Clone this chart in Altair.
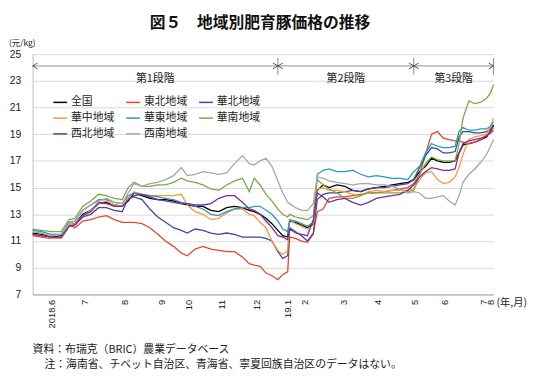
import altair as alt
import pandas as pd

# ---------------- data ----------------
t = [0, 9, 19, 29, 37, 43, 51, 59, 67, 75,
     83, 91, 97, 103, 111, 119, 127, 135, 143, 151,
     157, 165, 173, 181, 189, 197, 205, 213, 220, 225,
     231, 237, 243, 249, 254, 259, 261, 267, 273, 279,
     285, 289, 295, 301, 309, 317, 325, 333, 341, 349,
     357, 365, 373, 381, 387, 393, 399, 405, 411, 417,
     423, 429, 433, 437, 443, 449, 455, 461, 465, 468]

zenkoku = [11.6, 11.5, 11.3, 11.4, 12.2, 12.3, 13.0, 13.3, 13.8, 13.9,
           13.7, 13.6, 14.0, 14.6, 14.4, 14.2, 14.1, 14.1, 14.0, 13.8,
           13.7, 13.6, 13.6, 13.3, 13.2, 13.5, 13.6, 13.5, 13.3, 13.2,
           13.0, 12.7, 12.3, 11.8, 11.4, 11.3, 12.5, 12.4, 12.2, 12.0,
           12.3, 14.8, 15.2, 15.0, 15.2, 15.1, 14.8, 14.7, 14.9, 15.0,
           15.1, 15.2, 15.3, 15.4, 15.6, 16.2, 16.6, 17.2, 17.0, 16.9,
           16.9, 17.0, 17.6, 18.2, 18.3, 18.4, 18.6, 18.8, 19.3, 19.7]
tohoku = [11.4, 11.3, 11.2, 11.3, 12.2, 12.0, 12.5, 12.6, 12.8, 12.9,
          12.6, 12.4, 12.4, 12.4, 12.3, 12.0, 11.5, 11.0, 10.6, 10.1,
          9.9, 10.4, 10.6, 10.4, 10.3, 10.2, 10.2, 9.8, 9.3, 9.2,
          9.1, 8.6, 8.4, 8.1, 8.5, 8.7, 11.3, 11.2, 11.0, 10.9,
          11.5, 13.2, 13.4, 14.2, 14.3, 14.3, 14.4, 14.5, 14.6, 14.6,
          14.7, 14.8, 14.9, 15.0, 15.3, 16.0, 17.5, 19.0, 19.2, 18.7,
          18.6, 18.5, 18.5, 18.4, 18.3, 18.4, 18.6, 18.9, 19.2, 19.5]
kahoku = [11.5, 11.4, 11.2, 11.2, 12.1, 12.2, 12.8, 13.0, 13.5, 13.5,
          13.3, 13.2, 14.2, 14.3, 14.1, 13.4, 12.8, 12.4, 12.0, 11.8,
          11.6, 11.9, 11.8, 11.6, 11.5, 11.6, 11.5, 11.3, 11.3, 11.3,
          11.3, 11.2, 11.0, 10.2, 9.7, 9.9, 12.0, 11.7, 11.4, 11.0,
          11.6, 14.1, 14.5, 14.6, 14.6, 14.7, 14.8, 14.7, 14.9, 15.0,
          15.0, 15.1, 15.2, 15.3, 15.6, 16.5, 17.4, 18.0, 17.9, 17.6,
          17.6, 17.7, 18.8, 19.2, 19.2, 19.1, 19.1, 19.2, 19.4, 19.6]
kachu = [11.5, 11.4, 11.2, 11.2, 12.2, 12.3, 12.9, 13.3, 13.8, 14.0,
         13.7, 13.6, 14.2, 14.7, 14.5, 14.4, 14.4, 14.4, 14.4, 14.5,
         13.7, 13.2, 13.0, 12.6, 12.7, 13.1, 13.4, 13.4, 13.0, 12.9,
         12.4, 12.0, 11.0, 10.3, 10.0, 10.3, 12.6, 12.3, 12.1, 11.9,
         12.2, 14.9, 15.0, 14.8, 14.8, 14.7, 14.5, 14.4, 14.7, 14.8,
         14.7, 14.8, 14.8, 14.8, 14.9, 15.6, 16.1, 16.2, 15.6, 15.3,
         15.4, 15.8, 16.5, 17.5, 18.6, 18.8, 18.9, 19.0, 19.6, 20.2]
katou = [11.8, 11.7, 11.5, 11.5, 12.4, 12.5, 13.3, 13.7, 14.1, 14.1,
         13.9, 13.8, 14.4, 14.6, 14.5, 14.4, 14.3, 14.2, 14.1, 13.9,
         13.8, 13.6, 13.4, 13.0, 12.9, 13.2, 13.4, 13.5, 13.5, 13.6,
         13.6, 13.3, 13.0, 12.5, 11.9, 11.7, 12.6, 12.5, 12.3, 12.1,
         12.4, 16.0, 16.3, 16.4, 16.2, 16.2, 16.3, 16.0, 15.8, 15.9,
         15.8, 15.7, 15.7, 15.6, 16.2, 16.6, 17.6, 18.3, 18.1, 18.0,
         18.0, 18.1, 19.2, 19.5, 19.3, 19.3, 19.4, 19.4, 19.6, 19.9]
kanan = [11.9, 11.8, 11.7, 11.7, 12.6, 12.7, 13.6, 14.0, 14.5, 14.4,
         14.2, 14.1, 15.0, 15.4, 15.1, 15.1, 15.2, 15.2, 15.4, 15.7,
         15.5, 15.4, 15.2, 14.9, 14.8, 15.2, 15.5, 15.7, 14.7, 15.7,
         15.2, 14.5, 14.0, 13.4, 13.0, 12.8, 13.0, 12.8, 12.7, 12.6,
         12.9, 15.6, 15.2, 14.9, 14.6, 14.2, 14.2, 14.4, 14.6, 14.6,
         14.6, 14.6, 14.6, 14.7, 14.8, 16.0, 16.8, 17.3, 17.1, 17.0,
         17.0, 17.0, 18.3, 20.2, 21.5, 21.3, 21.4, 21.7, 22.1, 22.7]
seihoku = [11.5, 11.4, 11.3, 11.3, 12.1, 12.2, 12.9, 13.2, 13.9, 13.8,
           13.6, 13.6, 14.1, 14.4, 14.5, 14.3, 14.1, 14.0, 13.9, 13.8,
           13.8, 13.7, 13.7, 13.8, 14.2, 14.4, 14.4, 13.9, 13.4, 13.3,
           13.0, 12.5, 12.0, 11.4, 11.3, 11.1, 11.9, 11.6, 11.5, 11.4,
           12.6, 14.6, 14.3, 13.9, 14.1, 14.2, 13.9, 13.7, 13.9, 14.2,
           14.3, 14.4, 14.5, 14.8, 15.2, 15.8, 16.2, 16.5, 16.4, 16.3,
           16.3, 16.4, 17.6, 18.3, 18.5, 18.6, 18.7, 18.9, 19.1, 19.3]
seinan = [11.7, 11.6, 11.4, 11.5, 12.3, 12.5, 13.3, 13.7, 14.0, 14.2,
          13.9, 13.8, 14.6, 15.3, 15.1, 15.3, 15.4, 15.6, 15.9, 16.5,
          15.9, 16.0, 16.2, 16.1, 16.0, 16.1, 16.8, 17.4, 16.8, 16.7,
          17.0, 17.2, 16.6, 15.5, 14.6, 13.9, 13.8, 13.5, 13.3, 13.3,
          13.8, 15.8, 15.7, 15.5, 15.4, 15.3, 15.2, 15.3, 15.3, 15.2,
          15.2, 15.1, 14.9, 14.6, 14.7, 14.6, 14.2, 14.2, 14.3, 14.4,
          14.0, 13.7, 14.4, 15.4, 16.0, 16.4, 16.9, 17.5, 18.1, 18.6]

series_names = ["全国", "東北地域", "華北地域", "華中地域",
                "華東地域", "華南地域", "西北地域", "西南地域"]
series_values = [zenkoku, tohoku, kahoku, kachu, katou, kanan, seihoku, seinan]
series_colors = ["#000000", "#E8452C", "#3B4A9E", "#F79A3A",
                 "#2A9BB5", "#7BAA45", "#7B2E9A", "#A6A6A6"]

month_ticks = [19, 52.5, 93.5, 131, 158.5, 192, 227.5, 259, 276.5,
               316, 350, 387.5, 418, 458, 464.5]
month_labels = ["2018.6", "7", "8", "9", "10", "11", "12", "19.1", "2",
                "3", "4", "5", "6", "7", "8"]

phase_names = ["第1段階", "第2段階", "第3段階"]
phase_start = [0, 249, 387]
phase_end = [249, 387, 468]

title_text = "図５　地域別肥育豚価格の推移"
unit_text = "(元/kg)"
xunit_text = "(年,月)"
note1 = "資料：布瑞克（BRIC）農業データベース"
note2 = "注：海南省、チベット自治区、青海省、寧夏回族自治区のデータはない。"

# ---------------- build tables ----------------
rows = []
for name, vals in zip(series_names, series_values):
    for ti, v in zip(t, vals):
        rows.append({"t": ti, "price": v, "region": name})
df = pd.DataFrame(rows)

phases = pd.DataFrame({"name": phase_names, "t": phase_start, "t2": phase_end})
phases["mid"] = (phases["t"] + phases["t2"]) / 2
bounds_right = pd.DataFrame({"t": phase_end})
bounds_left = pd.DataFrame({"t": phase_start})

# label expression for the month axis
expr = "''"
for v, l in reversed(list(zip(month_ticks, month_labels))):
    expr = f"datum.value == {v} ? '{l}' : ({expr})"

JP = "Noto Sans CJK JP"
NUM = "Liberation Sans"

xscale = alt.Scale(domain=[0, 468], nice=False, zero=False)
xaxis = alt.Axis(values=month_ticks, labelExpr=expr, labelAngle=270,
                 labelFontSize=9.5, labelFont=NUM, labelColor="#222222",
                 labelPadding=5, labelOverlap=False, labelFlush=False,
                 ticks=False, tickSize=0, grid=False, domainColor="#A6A6A6",
                 title=None)
yaxis = alt.Axis(values=list(range(7, 26, 2)), labelFontSize=10.5,
                 labelFont=NUM, labelColor="#222222", labelPadding=12,
                 ticks=False, tickSize=0, grid=True, gridColor="#D9D9D9",
                 domainColor="#BFBFBF", title=None)

lines = alt.Chart(df).mark_line(strokeWidth=1.3).encode(
    x=alt.X("t:Q", scale=xscale, axis=xaxis),
    y=alt.Y("price:Q", scale=alt.Scale(domain=[7, 25], nice=False, zero=False), axis=yaxis),
    color=alt.Color("region:N",
                    scale=alt.Scale(domain=series_names, range=series_colors),
                    sort=series_names,
                    legend=alt.Legend(orient="none", legendX=20, legendY=41,
                                      direction="horizontal",
                                      columns=3, symbolType="stroke",
                                      symbolSize=196, symbolStrokeWidth=1.5,
                                      labelFontSize=11, labelFont=JP,
                                      labelColor="#222222",
                                      labelOffset=3, columnPadding=9,
                                      rowPadding=3, title=None)),
    detail="region:N",
)

ann_color = "#7F7F7F"
stage_line = alt.Chart(phases).mark_rule(color=ann_color, strokeWidth=0.9).encode(
    x=alt.X("t:Q", scale=xscale, axis=xaxis), x2="t2:Q", y=alt.value(12))
stage_ticks = alt.Chart(bounds_right).mark_rule(color=ann_color, strokeWidth=0.9).encode(
    x=alt.X("t:Q", scale=xscale, axis=xaxis), y=alt.value(4), y2=alt.value(21))
arrow_r = alt.Chart(bounds_right).mark_point(
    shape="M-1,-0.6L0,0L-1,0.6", size=100, filled=False,
    stroke="#404040", strokeWidth=0.9, opacity=1).encode(
    x=alt.X("t:Q", scale=xscale, axis=xaxis), y=alt.value(12))
arrow_l = alt.Chart(bounds_left).mark_point(
    shape="M1,-0.6L0,0L1,0.6", size=100, filled=False,
    stroke="#404040", strokeWidth=0.9, opacity=1).encode(
    x=alt.X("t:Q", scale=xscale, axis=xaxis), y=alt.value(12))
stage_text = alt.Chart(phases).mark_text(
    fontSize=11, font=JP, color="#222222", baseline="middle").encode(
    x=alt.X("mid:Q", scale=xscale, axis=xaxis), y=alt.value(25), text="name:N")


def free_text(txt, x, y, size, align="left", bold=False, color="#222222", font=JP):
    return alt.Chart(pd.DataFrame({"s": [txt]})).mark_text(
        fontSize=size, font=font, align=align, baseline="middle",
        fontWeight="bold" if bold else "normal", color=color).encode(
        x=alt.value(x), y=alt.value(y), text="s:N")


title = free_text(title_text, 231, -32, 16, align="center", bold=True, color="#111111")
unit = free_text(unit_text, -24, -11, 8.5)
xunit = free_text(xunit_text, 471, 253, 10.5)
n1 = free_text(note1, 0, 300, 11)
n2 = free_text(note2, 12, 316, 11)

chart = alt.layer(
    lines, stage_line, stage_ticks, arrow_r, arrow_l, stage_text,
    title, unit, xunit, n1, n2
).properties(
    width=468, height=244,
    padding={"left": 25, "top": 44, "right": 35, "bottom": 81},
    autosize=alt.AutoSizeParams(type="none"),
    background="white",
).configure_view(stroke=None)

chart.save("out.html", embed_options={"renderer": "svg", "actions": False})
